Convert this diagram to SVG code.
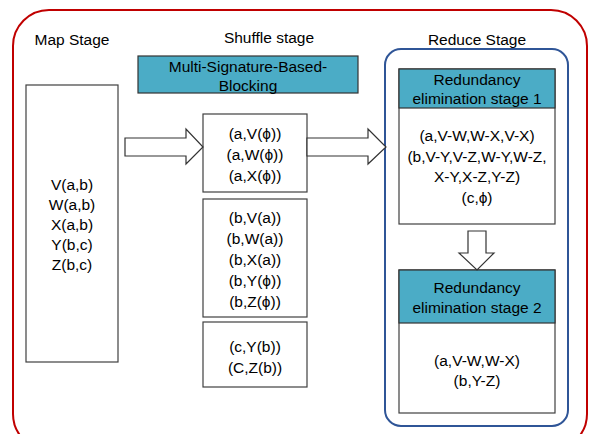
<svg xmlns="http://www.w3.org/2000/svg" width="589" height="434" viewBox="0 0 589 434">
  <style>
    text { font-family: "Liberation Sans", Arial, sans-serif; font-size: 15.5px; fill: #000; text-anchor: middle; dominant-baseline: central; }
    .box { fill: #fff; stroke: #404040; stroke-width: 1.2; }
    .hdr { fill: #4BACC6; stroke: #333; stroke-width: 1.2; }
    .arrow { fill: #fff; stroke: #333; stroke-width: 1.2; stroke-linejoin: miter; }
  </style>

  <!-- outer frame -->
  <rect x="13" y="10" width="574" height="440" rx="36" ry="36" fill="#fff" stroke="#C00000" stroke-width="2"/>

  <!-- stage titles -->
  <text x="72" y="39">Map Stage</text>
  <text x="269" y="37">Shuffle stage</text>
  <text x="477" y="39">Reduce Stage</text>

  <!-- map stage -->
  <g id="map">
    <rect class="box" x="26" y="85" width="92" height="277"/>
    <text x="72" y="184">V(a,b)</text>
    <text x="72" y="204">W(a,b)</text>
    <text x="72" y="224">X(a,b)</text>
    <text x="72" y="244">Y(b,c)</text>
    <text x="72" y="264">Z(b,c)</text>
  </g>

  <!-- shuffle stage -->
  <g id="blocking">
    <rect class="hdr" x="138" y="56" width="220" height="37"/>
    <text x="248" y="66">Multi-Signature-Based-</text>
    <text x="248" y="85">Blocking</text>
  </g>
  <g id="shuffle-a">
    <rect class="box" x="203" y="114" width="104" height="78"/>
    <text x="255" y="133">(a,V(ϕ))</text>
    <text x="255" y="154">(a,W(ϕ))</text>
    <text x="255" y="175">(a,X(ϕ))</text>
  </g>
  <g id="shuffle-b">
    <rect class="box" x="203" y="199" width="104" height="118"/>
    <text x="255" y="217">(b,V(a))</text>
    <text x="255" y="238">(b,W(a))</text>
    <text x="255" y="259">(b,X(a))</text>
    <text x="255" y="280">(b,Y(ϕ))</text>
    <text x="255" y="301">(b,Z(ϕ))</text>
  </g>
  <g id="shuffle-c">
    <rect class="box" x="203" y="322" width="104" height="65"/>
    <text x="255" y="346">(c,Y(b))</text>
    <text x="255" y="367">(C,Z(b))</text>
  </g>

  <!-- reduce stage -->
  <g id="reduce">
    <rect x="385" y="49" width="183" height="377" rx="16" ry="16" fill="#fff" stroke="#2F5597" stroke-width="2"/>
  </g>
  <g id="stage1">
    <rect class="box" x="399" y="69" width="156" height="155"/>
    <rect class="hdr" x="399" y="69" width="156" height="39"/>
    <text x="477" y="79">Redundancy</text>
    <text x="477" y="98">elimination stage 1</text>
    <text x="477" y="135">(a,V-W,W-X,V-X)</text>
    <text x="477" y="156">(b,V-Y,V-Z,W-Y,W-Z,</text>
    <text x="477" y="176">X-Y,X-Z,Y-Z)</text>
    <text x="477" y="197">(c,ϕ)</text>
  </g>
  <g id="stage2">
    <rect class="box" x="399" y="270" width="156" height="143"/>
    <rect class="hdr" x="399" y="270" width="156" height="53"/>
    <text x="477" y="287">Redundancy</text>
    <text x="477" y="307">elimination stage 2</text>
    <text x="477" y="360">(a,V-W,W-X)</text>
    <text x="477" y="380">(b,Y-Z)</text>
  </g>

  <!-- connectors (block arrows) -->
  <g id="connectors">
    <polygon class="arrow" points="125,138 186,138 186,129 203,147 186,164 186,156 125,156"/>
    <polygon class="arrow" points="307,138 368,138 368,129 386,147 368,164 368,156 307,156"/>
    <polygon class="arrow" points="468,231 486,231 486,253 494,253 477,270 459,253 468,253"/>
  </g>
</svg>
